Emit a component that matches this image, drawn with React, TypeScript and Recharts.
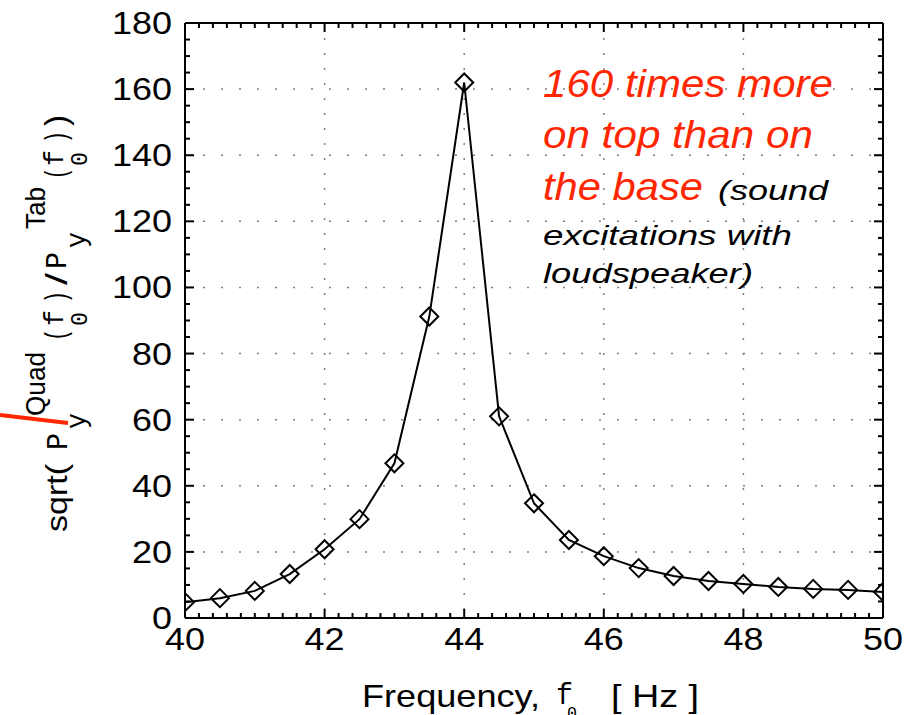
import React from 'react';
import { ComposedChart, Line, Scatter, XAxis, YAxis, CartesianGrid, ReferenceLine } from 'recharts';

// frequency (Hz) and sqrt(Py_quad / Py_tab)
const freqs = [40, 40.5, 41, 41.5, 42, 42.5, 43, 43.5, 44, 44.5, 45, 45.5, 46, 46.5, 47, 47.5, 48, 48.5, 49, 49.5, 50];
const ratio = [4.8, 6.0, 8.2, 13.3, 20.8, 29.9, 46.8, 91.2, 162, 61, 34.7, 23.6, 18.7, 15.1, 12.7, 11.2, 10.3, 9.4, 8.8, 8.5, 7.9];

const xTickLabels = [40, 42, 44, 46, 48, 50];
const yTickLabels = [0, 20, 40, 60, 80, 100, 120, 140, 160, 180];
const xGridValues = [42, 44, 46, 48];
const yGridValues = [20, 40, 60, 80, 100, 120, 140, 160];

const annotationRed = ['160 times more', 'on top than on', 'the base'];
const annotationBlack = ['(sound', 'excitations with', 'loudspeaker)'];

const SANS = '"Liberation Sans", Arial, Helvetica, sans-serif';
const MONO = '"Liberation Mono", "Courier New", monospace';
const RED = '#ff2600';

const X_MIN = 40;
const X_MAX = 50;
const Y_MIN = 0;
const Y_MAX = 180;

// minor tick positions: every 0.2 Hz and every 5 units
const xMinor: number[] = [];
for (let i = 0; i <= 50; i++) xMinor.push(Math.round((40 + i * 0.2) * 10) / 10);
const yMinor: number[] = [];
for (let i = 0; i <= 36; i++) yMinor.push(i * 5);

const data = freqs.map((f, i) => ({ f, v: ratio[i] }));

// tick-mark anchor points on the four sides of the frame
const bottomTicks = xMinor.map((f) => ({ f, t: Y_MIN }));
const topTicks = xMinor.map((f) => ({ f, t: Y_MAX }));
const leftTicks = yMinor.map((t) => ({ f: X_MIN, t }));
const rightTicks = yMinor.map((t) => ({ f: X_MAX, t }));

const isMajorX = (v: number) => xTickLabels.some((t) => Math.abs(t - v) < 1e-6);
const isMajorY = (v: number) => yTickLabels.some((t) => Math.abs(t - v) < 1e-6);

const tickShape = (side: 'b' | 't' | 'l' | 'r') => (props: any) => {
  const { cx, cy, payload } = props;
  if (cx == null || cy == null) return <g />;
  const major = side === 'b' || side === 't' ? isMajorX(payload.f) : isMajorY(payload.t);
  const len = major ? 9 : 5;
  let x2 = cx;
  let y2 = cy;
  if (side === 'b') y2 = cy - len;
  if (side === 't') y2 = cy + len;
  if (side === 'l') x2 = cx + len;
  if (side === 'r') x2 = cx - len;
  return <path d={`M${cx},${cy}L${x2},${y2}`} stroke="#000" strokeWidth={2} fill="none" />;
};

const BottomLabel = (props: any) => {
  const { x, y, payload } = props;
  const label = String(payload.value);
  return (
    <text
      x={x}
      y={y + 32}
      textAnchor="middle"
      fontFamily={SANS}
      fontSize={31}
      fill="#000"
      textLength={label.length * 20}
      lengthAdjust="spacingAndGlyphs"
    >
      {label}
    </text>
  );
};

const LeftLabel = (props: any) => {
  const { x, y, payload } = props;
  const label = String(payload.value);
  return (
    <text
      x={x - 13}
      y={y + 11}
      textAnchor="end"
      fontFamily={SANS}
      fontSize={31}
      fill="#000"
      textLength={label.length * 20}
      lengthAdjust="spacingAndGlyphs"
    >
      {label}
    </text>
  );
};

const Diamond = (props: any) => {
  const { cx, cy, index } = props;
  if (cx == null || cy == null) return <g key={`d${index}`} />;
  const r = 9;
  return (
    <path
      key={`d${index}`}
      d={`M${cx},${cy - r} L${cx + r},${cy} L${cx},${cy + r} L${cx - r},${cy} Z`}
      fill="none"
      stroke="#000"
      strokeWidth={2}
    />
  );
};

// rotated y label, laid out piece by piece (y0 = screen y where piece starts, base = baseline screen x)
const yLabelPieces = [
  { t: 'sqrt(', y0: 532, len: 68, base: 67, fs: 30, font: SANS },
  { t: 'P', y0: 450, len: 17, base: 67, fs: 30, font: MONO },
  { t: 'Quad', y0: 416, len: 64, base: 45, fs: 28, font: SANS },
  { t: 'y', y0: 429, len: 16, base: 85, fs: 28, font: MONO },
  { t: '(', y0: 341, len: 12, base: 66, fs: 30, font: MONO },
  { t: 'f', y0: 326, len: 16, base: 63, fs: 28, font: MONO },
  { t: '0', y0: 326, len: 14, base: 87, fs: 24, font: MONO },
  { t: ')', y0: 303, len: 12, base: 66, fs: 30, font: MONO },
  { t: '/', y0: 285, len: 12, base: 67, fs: 30, font: SANS },
  { t: 'P', y0: 269, len: 17, base: 66, fs: 30, font: MONO },
  { t: 'y', y0: 248, len: 16, base: 85, fs: 28, font: MONO },
  { t: 'Tab', y0: 229, len: 42, base: 45, fs: 28, font: SANS },
  { t: '(', y0: 179, len: 11, base: 66, fs: 30, font: MONO },
  { t: 'f', y0: 166, len: 16, base: 63, fs: 28, font: MONO },
  { t: '0', y0: 166, len: 14, base: 87, fs: 24, font: MONO },
  { t: ')', y0: 143, len: 12, base: 66, fs: 30, font: MONO },
  { t: ')', y0: 126, len: 11, base: 67, fs: 32, font: SANS },
];

const Overlay = () => (
  <svg
    width={914}
    height={715}
    style={{ position: 'absolute', left: 0, top: 0, pointerEvents: 'none' }}
  >
    <g transform="rotate(-90)">
      {yLabelPieces.map((p, i) => (
        <text
          key={i}
          x={-p.y0}
          y={p.base}
          fontFamily={p.font}
          fontSize={p.fs}
          fill="#000"
          textLength={p.len}
          lengthAdjust="spacingAndGlyphs"
        >
          {p.t}
        </text>
      ))}
    </g>
    <line x1={0} y1={415} x2={68} y2={423} stroke={RED} strokeWidth={4} />

    {/* x axis label */}
    <text x={362} y={707} fontFamily={SANS} fontSize={32} fill="#000" textLength={178} lengthAdjust="spacingAndGlyphs">
      Frequency,
    </text>
    <text x={556} y={704} fontFamily={MONO} fontSize={30} fill="#000" textLength={17} lengthAdjust="spacingAndGlyphs">
      f
    </text>
    <text x={567} y={719} fontFamily={MONO} fontSize={19} fill="#000" textLength={10} lengthAdjust="spacingAndGlyphs">
      0
    </text>
    <text x={611} y={707} fontFamily={SANS} fontSize={32} fill="#000" textLength={88} lengthAdjust="spacingAndGlyphs">
      [ Hz ]
    </text>

    {/* annotation */}
    <g fontFamily={SANS} fontStyle="italic">
      <text x={543} y={97} fontSize={38} fill={RED} textLength={290} lengthAdjust="spacingAndGlyphs">
        {annotationRed[0]}
      </text>
      <text x={543} y={148} fontSize={38} fill={RED} textLength={270} lengthAdjust="spacingAndGlyphs">
        {annotationRed[1]}
      </text>
      <text x={543} y={200} fontSize={38} fill={RED} textLength={160} lengthAdjust="spacingAndGlyphs">
        {annotationRed[2]}
      </text>
      <text x={718} y={200} fontSize={28} fill="#000" textLength={110} lengthAdjust="spacingAndGlyphs">
        {annotationBlack[0]}
      </text>
      <text x={543} y={245} fontSize={28} fill="#000" textLength={249} lengthAdjust="spacingAndGlyphs">
        {annotationBlack[1]}
      </text>
      <text x={543} y={283} fontSize={28} fill="#000" textLength={210} lengthAdjust="spacingAndGlyphs">
        {annotationBlack[2]}
      </text>
    </g>
  </svg>
);

const axisStroke = { stroke: '#000', strokeWidth: 2 };

export default function App() {
  return (
    <div style={{ position: 'absolute', left: 0, top: 0, width: 914, height: 715, background: '#fff' }}>
      <ComposedChart width={914} height={715} data={data} margin={{ top: 23, right: 31, bottom: 0, left: 0 }}>
        <CartesianGrid
          horizontal
          vertical={false}
          horizontalValues={yGridValues}
          stroke="#808080"
          strokeWidth={1.5}
          strokeDasharray="2 16"
        />
        <CartesianGrid
          horizontal={false}
          vertical
          verticalValues={xGridValues}
          stroke="#808080"
          strokeWidth={1.5}
          strokeDasharray="2 13"
        />
        <XAxis
          dataKey="f"
          type="number"
          domain={[X_MIN, X_MAX]}
          ticks={xTickLabels}
          interval={0}
          height={97}
          tickSize={0}
          tickMargin={0}
          tickLine={false}
          axisLine={axisStroke}
          tick={<BottomLabel />}
          allowDataOverflow
        />
        <YAxis
          type="number"
          domain={[Y_MIN, Y_MAX]}
          ticks={yTickLabels}
          interval={0}
          width={185}
          tickSize={0}
          tickMargin={0}
          tickLine={false}
          axisLine={axisStroke}
          tick={<LeftLabel />}
          allowDataOverflow
        />
        {/* top and right sides of the box */}
        <ReferenceLine y={Y_MAX} stroke="#000" strokeWidth={2} ifOverflow="visible" />
        <ReferenceLine x={X_MAX} stroke="#000" strokeWidth={2} ifOverflow="visible" />
        {/* inward tick marks */}
        <Scatter data={bottomTicks} dataKey="t" shape={tickShape('b')} isAnimationActive={false} />
        <Scatter data={topTicks} dataKey="t" shape={tickShape('t')} isAnimationActive={false} />
        <Scatter data={leftTicks} dataKey="t" shape={tickShape('l')} isAnimationActive={false} />
        <Scatter data={rightTicks} dataKey="t" shape={tickShape('r')} isAnimationActive={false} />
        <Line
          dataKey="v"
          stroke="#000"
          strokeWidth={2}
          dot={Diamond}
          activeDot={false}
          isAnimationActive={false}
        />
      </ComposedChart>
      <Overlay />
    </div>
  );
}
